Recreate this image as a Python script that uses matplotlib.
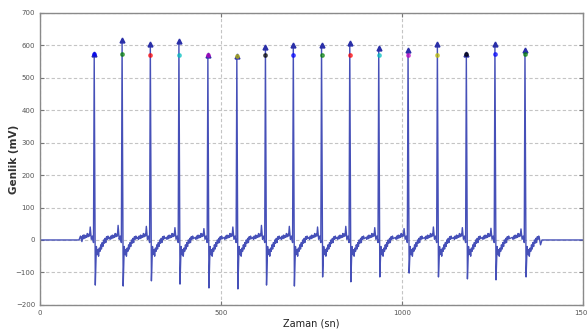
import numpy as np
import matplotlib
matplotlib.use("Agg")
import matplotlib.pyplot as plt

# R-peak times (sn) and amplitudes
r_times = [150, 227, 305, 384, 464, 544, 623, 700, 778, 856, 936, 1017, 1098, 1178, 1257, 1340]
r_heights = [572, 618, 605, 612, 571, 568, 595, 600, 602, 607, 592, 586, 605, 573, 605, 586]
s_depths = [-139, -142, -126, -136, -148, -151, -139, -142, -114, -129, -114, -102, -114, -120, -123, -114]
det_level = [572, 573, 570, 570, 570, 568, 570, 570, 570, 570, 570, 570, 570, 573, 572, 574]
# small spike just before each R
pre_spike = [40, 45, 42, 38, 35, 40, 45, 42, 40, 42, 38, 35, 40, 38, 36, 34]

# one beat: offset from R (sn) and amplitude (mV);
# None marks samples taken from the per-beat lists
beat_offsets = [-35, -33, -31, -29, -27, -25, -23, -21, -19, -17, -15, -13, -11, -8, -5, -2,
                0, 3, 6, 8, 10, 12, 14, 16, 18, 20, 22, 24, 26, 28, 30, 32, 34, 36, 38, 40]
beat_values = [8, 2, 12, 4, 15, 6, 14, 8, 20, 10, 18, 12, None, 2, 12, -8,
               None, None, -20, -45, -30, -50, -25, -35, -15, -28, -8, -20, 0, -10, 5, -8, 10, 2, 12, 4]

x_ticks = [0, 500, 1000, 1500]
y_ticks = [-200, -100, 0, 100, 200, 300, 400, 500, 600, 700]

# build the trace: flat start, the beats, flat end
t = [0, 108, 112, 116, 120]
v = [0, 0, 12, -5, 15]
for rt, rh, sd, ps in zip(r_times, r_heights, s_depths, pre_spike):
    for off, val in zip(beat_offsets, beat_values):
        t.append(rt + off)
        if off == 0:
            v.append(rh)
        elif off == 3:
            v.append(sd)
        elif off == -11:
            v.append(ps)
        else:
            v.append(val)
t += [1383, 1387, 1500]
v += [-15, 0, 0]

fig = plt.figure(figsize=(5.87, 3.31), dpi=100)
ax = fig.add_axes([0.068, 0.079, 0.925, 0.882])

ax.plot(t, v, color='#4650b8', lw=1.0)

# detected peaks
ax.plot(r_times, r_heights, '^', color='#2a2fa8', ms=3.5, ls='none')
cyc = ['b', 'g', 'r', 'c', 'm', 'y', 'k']
for i, (rt, lv) in enumerate(zip(r_times, det_level)):
    ax.plot(rt, lv, 'o', color=cyc[i % 7], ms=2.5, alpha=0.6)

ax.set_xlim(0, 1500)
ax.set_ylim(-200, 700)
ax.set_xticks(x_ticks)
ax.set_yticks(y_ticks)
ax.grid(True, color='#c4c4c4', ls=(0, (3, 2)), lw=0.8)
ax.tick_params(direction='in', top=True, right=True, labelsize=5,
               colors='#777777', labelcolor='#555555', length=3)
for sp in ax.spines.values():
    sp.set_color('#8a8a8a')
    sp.set_linewidth(1.0)

ax.set_xlabel('Zaman (sn)', fontsize=7, color='#222222', labelpad=2)
ax.set_ylabel('Genlik (mV)', fontsize=7.5, fontweight='bold', color='#333333')
ax.yaxis.set_label_coords(-0.038, 0.5)

fig.savefig('out.png', dpi=100)
